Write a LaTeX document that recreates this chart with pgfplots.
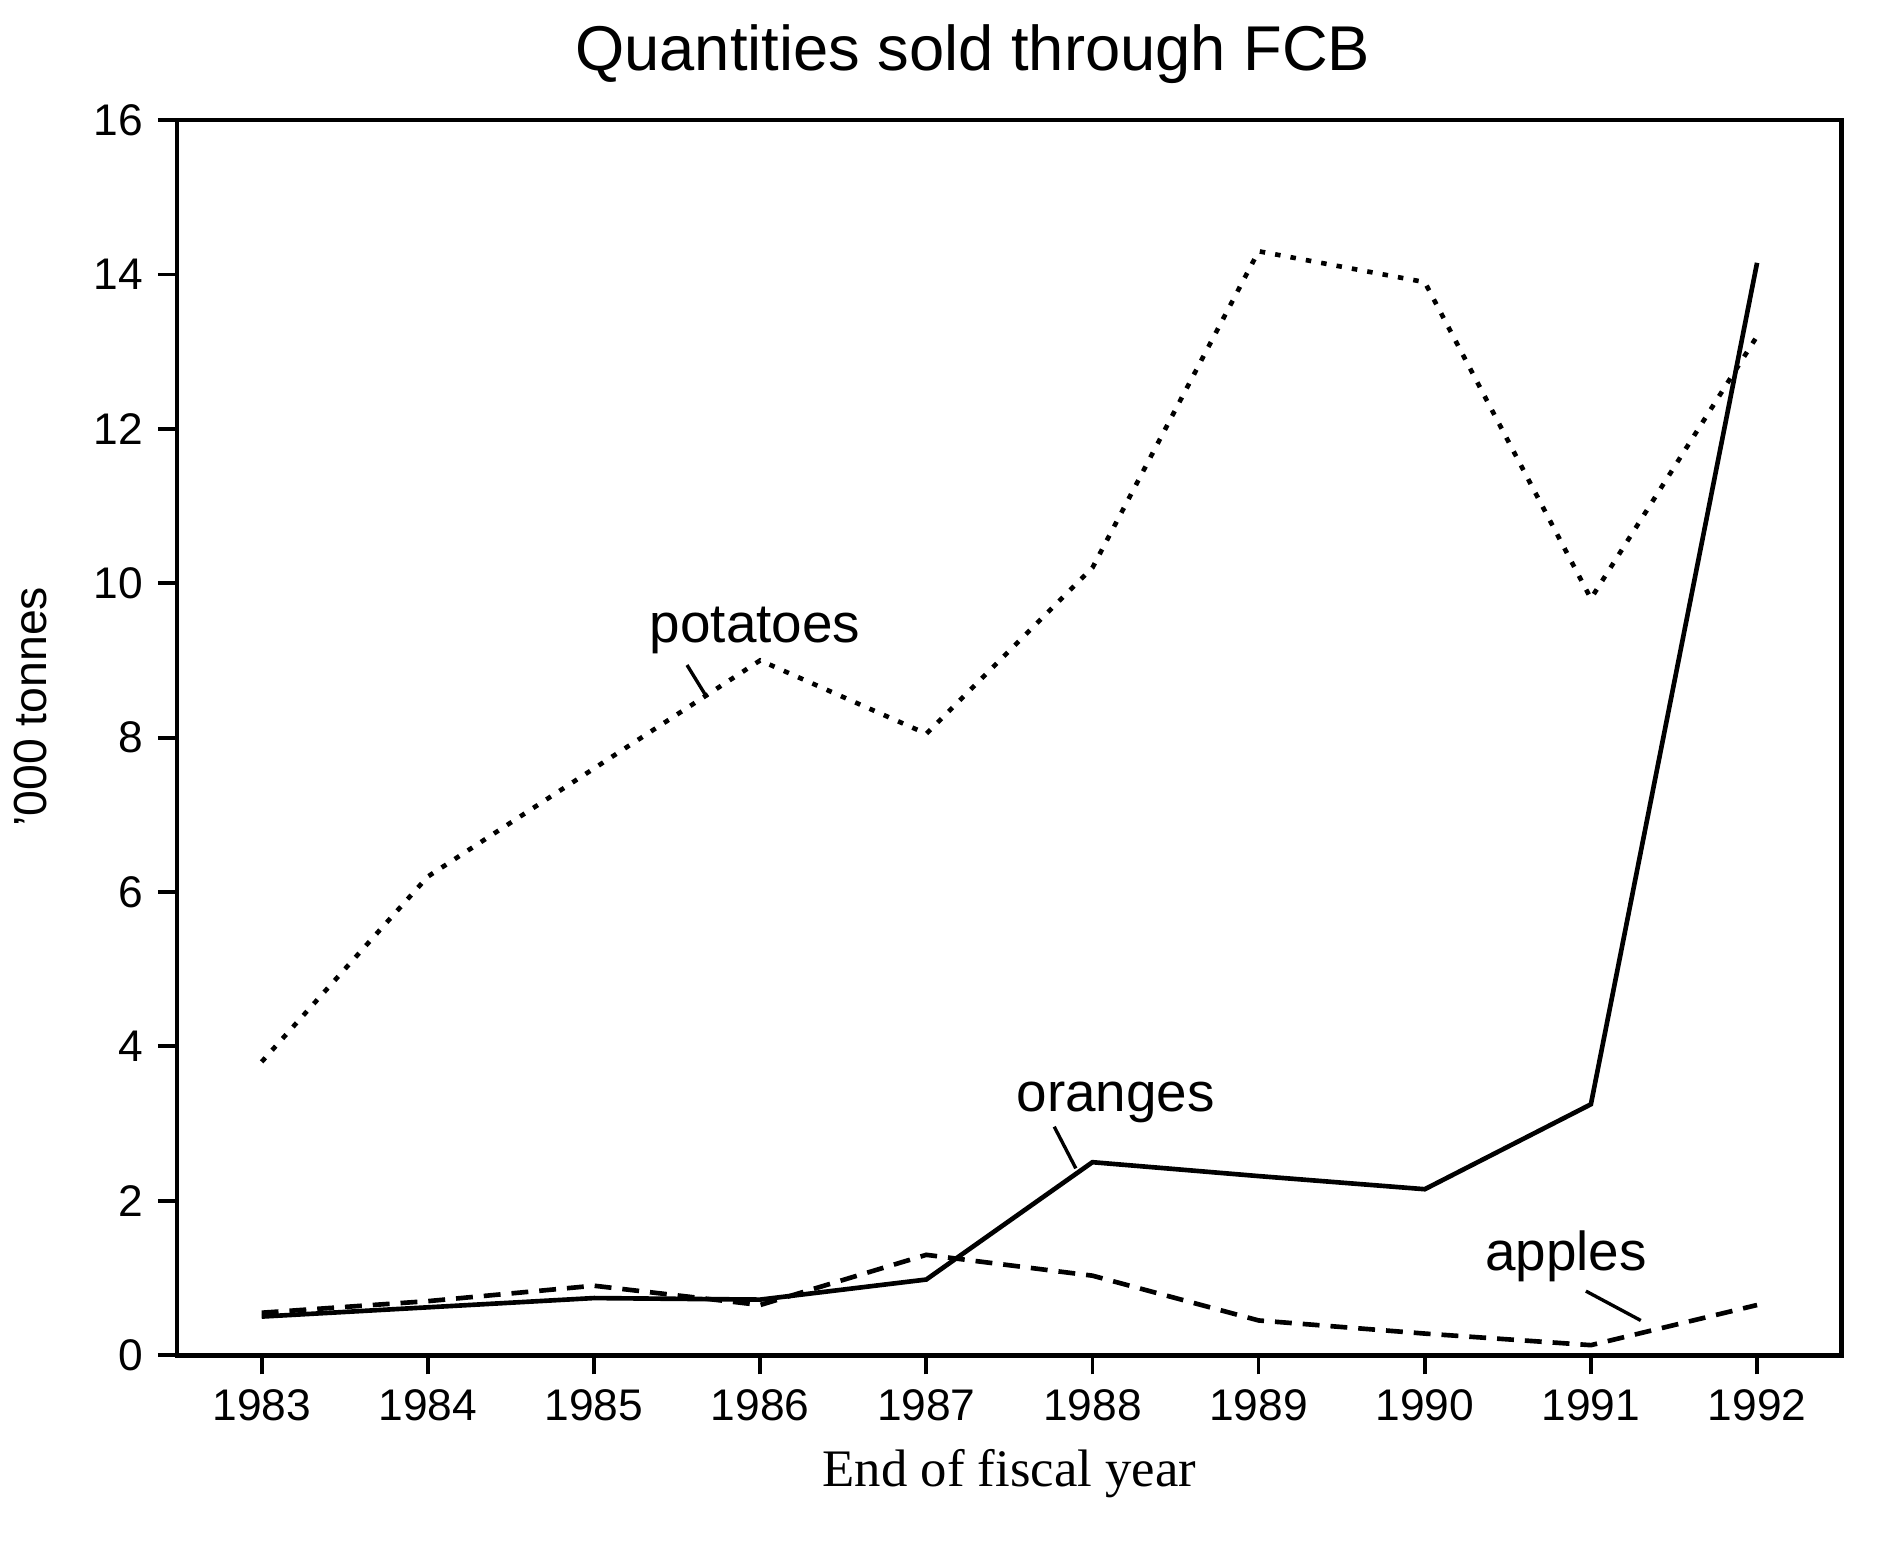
\documentclass[border=0pt]{standalone}
\usepackage{fontspec}
\setmainfont{Liberation Sans}
\newfontfamily\seriffont{Liberation Serif}
\usepackage{pgfplots}
\pgfplotsset{compat=1.18}
\begin{document}
\begin{tikzpicture}
\begin{axis}[
  scale only axis, width=13.87cm, height=10.29cm,
  xmin=1982.49, xmax=1992.51, ymin=0, ymax=16,
  xtick={1983,1984,1985,1986,1987,1988,1989,1990,1991,1992},
  ytick={0,2,4,6,8,10,12,14,16},
  tick pos=left, tick align=outside, major tick length=0.16cm,
  axis line style={line width=1.1pt},
  every tick/.style={line width=0.9pt, black},
  /pgf/number format/assume math mode=true,
  /pgf/number format/1000 sep={},
  ticklabel style={font=\fontsize{10.5}{12}\selectfont},
  clip=false,
]
\addplot[black, line width=1.1pt, dash pattern={on 1.3pt off 2.4pt}] coordinates {
 (1983,3.8) (1984,6.2) (1985,7.6) (1986,9.0) (1987,8.05) (1988,10.2)
 (1989,14.3) (1990,13.9) (1991,9.8) (1992,13.2)};
\addplot[black, line width=1.1pt] coordinates {
 (1983,0.5) (1984,0.62) (1985,0.74) (1986,0.72) (1987,0.98) (1988,2.5)
 (1989,2.32) (1990,2.15) (1991,3.25) (1992,14.15)};
\addplot[black, line width=1.1pt, dash pattern={on 4pt off 2.6pt}] coordinates {
 (1983,0.55) (1984,0.7) (1985,0.9) (1986,0.65) (1987,1.3) (1988,1.03)
 (1989,0.45) (1990,0.28) (1991,0.13) (1992,0.65)};
% labels and leader lines
\node[font=\fontsize{13}{15}\selectfont] at (axis cs:1985.97,9.39) {potatoes};
\draw[line width=0.8pt] (axis cs:1985.56,8.94) -- (axis cs:1985.68,8.52);
\node[font=\fontsize{13}{15}\selectfont] at (axis cs:1988.14,3.28) {oranges};
\draw[line width=0.8pt] (axis cs:1987.77,2.96) -- (axis cs:1987.9,2.42);
\node[font=\fontsize{13}{15}\selectfont] at (axis cs:1990.85,1.28) {apples};
\draw[line width=0.8pt] (axis cs:1990.97,0.83) -- (axis cs:1991.3,0.45);
% title and axis labels
\node[font=\fontsize{15}{18}\selectfont] at ([yshift=0.55cm]rel axis cs:0.478,1) {Quantities sold through FCB};
\node[rotate=90, font=\fontsize{11}{13}\selectfont] at ([xshift=-1.22cm]rel axis cs:0,0.525) {'000 tonnes};
\node[font=\seriffont\fontsize{12.5}{15}\selectfont] at ([yshift=-0.99cm]rel axis cs:0.5,0) {End of fiscal year};
\end{axis}
\path (current axis.south west) +(-1.45cm,-1.55cm) (current axis.north east) +(0.36cm,1.0cm);
\end{tikzpicture}
\end{document}
